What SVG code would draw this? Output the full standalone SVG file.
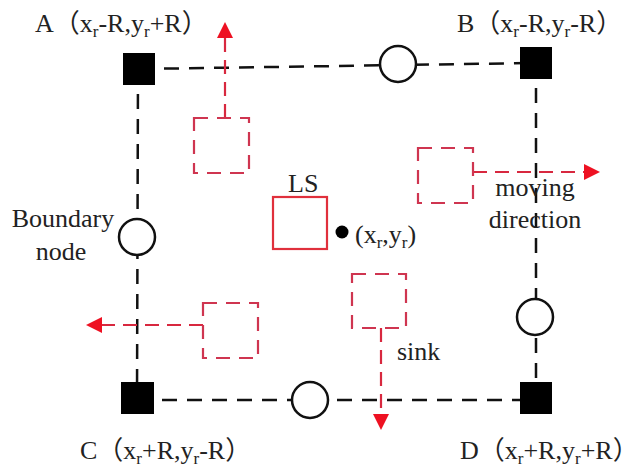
<svg xmlns="http://www.w3.org/2000/svg" width="640" height="467" viewBox="0 0 640 467">
<style>
.t{font-family:"Liberation Serif","Noto Sans CJK SC",serif;font-size:26px;fill:#222}
.s{font-size:17px}
.edge{stroke:#111;stroke-width:2.5;stroke-dasharray:15 10;fill:none}
.mv{stroke:#d8283f;stroke-width:2.2;stroke-dasharray:14 8;fill:none}
.sq{stroke:#cf3550;stroke-width:2.2;stroke-dasharray:14 9;fill:none}
.corner{fill:#000}
.bn{fill:#fff;stroke:#111;stroke-width:2.5}
</style>
<defs>
<marker id="ah" viewBox="0 0 10 10" refX="0" refY="5" markerWidth="18" markerHeight="16" markerUnits="userSpaceOnUse" orient="auto">
<path d="M0,0 L10,5 L0,10 Z" fill="#ee1122"/>
</marker>
</defs>
<rect width="640" height="467" fill="#fff"/>
<g id="connectors">
<path class="edge" d="M139,69 L536,63"/>
<path class="edge" d="M138,69 L137,398"/>
<path class="edge" d="M536,63 L536,398"/>
<path class="edge" d="M137,400 L536,400"/>
<path class="mv" d="M225,118 L225,38" marker-end="url(#ah)"/>
<path class="mv" d="M473,172 L584,172" marker-end="url(#ah)"/>
<path class="mv" d="M203,325 L102,325" marker-end="url(#ah)"/>
<path class="mv" d="M381,328 L381,414" marker-end="url(#ah)"/>
</g>
<g id="A"><rect class="corner" x="123" y="53" width="32" height="32"/>
<text class="t" x="35" y="32">A（x<tspan class="s" dy="5">r</tspan><tspan dy="-5">-R,y</tspan><tspan class="s" dy="5">r</tspan><tspan dy="-5">+R）</tspan></text></g>
<g id="B"><rect class="corner" x="520" y="47" width="32" height="32"/>
<text class="t" x="457" y="32">B（x<tspan class="s" dy="5">r</tspan><tspan dy="-5">-R,y</tspan><tspan class="s" dy="5">r</tspan><tspan dy="-5">-R）</tspan></text></g>
<g id="C"><rect class="corner" x="121" y="382" width="33" height="32"/>
<text class="t" x="80" y="459">C（x<tspan class="s" dy="5">r</tspan><tspan dy="-5">+R,y</tspan><tspan class="s" dy="5">r</tspan><tspan dy="-5">-R）</tspan></text></g>
<g id="D"><rect class="corner" x="520" y="382" width="32" height="32"/>
<text class="t" x="460" y="459">D（x<tspan class="s" dy="5">r</tspan><tspan dy="-5">+R,y</tspan><tspan class="s" dy="5">r</tspan><tspan dy="-5">+R）</tspan></text></g>
<g id="bn-top"><circle class="bn" cx="398" cy="64" r="18"/></g>
<g id="bn-left"><circle class="bn" cx="137" cy="237" r="18"/>
<text class="t" x="63" y="227" text-anchor="middle">Boundary</text>
<text class="t" x="61" y="260" text-anchor="middle">node</text></g>
<g id="bn-right"><circle class="bn" cx="535" cy="317" r="18"/></g>
<g id="bn-bottom"><circle class="bn" cx="310" cy="400" r="18"/></g>
<g id="LS"><rect x="273" y="197" width="54" height="52" fill="none" stroke="#e0303c" stroke-width="2.2"/>
<text class="t" x="288" y="192">LS</text></g>
<g id="center"><circle cx="342" cy="232" r="6.5" fill="#000"/>
<text class="t" x="355" y="243">(x<tspan class="s" dy="5">r</tspan><tspan dy="-5">,y</tspan><tspan class="s" dy="5">r</tspan><tspan dy="-5">)</tspan></text></g>
<g id="sink-up"><rect class="sq" x="194" y="118" width="55" height="55"/></g>
<g id="sink-right"><rect class="sq" x="418" y="148" width="55" height="55"/>
<text class="t" x="535" y="196" text-anchor="middle">moving</text>
<text class="t" x="535" y="228" text-anchor="middle">direction</text></g>
<g id="sink-left"><rect class="sq" x="203" y="303" width="55" height="55"/></g>
<g id="sink-down"><rect class="sq" x="352" y="274" width="54" height="54"/>
<text class="t" x="397" y="360">sink</text></g>
</svg>
